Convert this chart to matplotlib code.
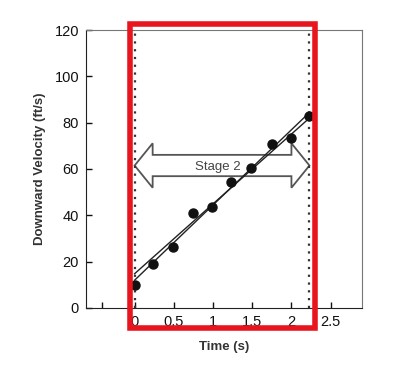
import numpy as np
import matplotlib
matplotlib.use('Agg')
import matplotlib.pyplot as plt
from matplotlib.patches import Polygon, Rectangle

plt.rcParams['font.family'] = ['Liberation Sans', 'DejaVu Sans']

# measured velocities during stage 2
time_s = [0, 0.24, 0.49, 0.75, 0.99, 1.23, 1.49, 1.75, 1.99, 2.22]
velocity = [10, 19, 26.3, 41, 43.6, 54.4, 60.4, 70.8, 73.4, 82.9]

# two fitted lines (end points)
fit_x = [0, 2.23]
fit_a = [12, 84.4]
fit_b = [14.8, 82]

stage_start, stage_end = 0, 2.23
stage_label = 'Stage 2'

xticks = [-0.42, 0, 0.5, 1, 1.5, 2, 2.5]
xticklabels = ['', '0', '0.5', '1', '1.5', '2', '2.5']
yticks = [0, 20, 40, 60, 80, 100, 120]

fig = plt.figure(figsize=(4, 3.75), dpi=100)
ax = fig.add_axes([0.215, 0.1787, 0.69, 0.7413])

# hollow double arrow marking the stage (drawn under the data)
y_mid, body, head, head_len = 61.5, 4.6, 9.6, 0.23
x0, x1 = stage_start, stage_end
verts = [(x0, y_mid), (x0 + head_len, y_mid + head), (x0 + head_len, y_mid + body),
         (x1 - head_len, y_mid + body), (x1 - head_len, y_mid + head), (x1, y_mid),
         (x1 - head_len, y_mid - head), (x1 - head_len, y_mid - body),
         (x0 + head_len, y_mid - body), (x0 + head_len, y_mid - head)]
ax.add_patch(Polygon(verts, closed=True, facecolor='white', edgecolor='#555555',
                     lw=1.3, zorder=1))
ax.text(1.06, y_mid - 0.5, stage_label, ha='center', va='center',
        fontsize=9.5, color='#444444', zorder=1.5)

ax.plot(fit_x, fit_a, color='#222222', lw=1.0, zorder=3)
ax.plot(fit_x, fit_b, color='#222222', lw=1.0, zorder=3)
ax.plot(time_s, velocity, 'o', color='#111111', ms=6.5, zorder=4)

for xv in (stage_start, stage_end):
    ax.axvline(xv, color='#333333', ls=(0, (1, 2.5)), lw=1.6, zorder=2)

ax.set_xlim(-0.62, 2.9)
ax.set_ylim(0, 120)
ax.set_xticks(xticks)
ax.set_xticklabels(xticklabels)
ax.set_yticks(yticks)
ax.tick_params(direction='in', length=4, width=1, labelsize=10.5,
               colors='#111111', pad=5)
for side in ('left', 'bottom'):
    ax.spines[side].set_color('#222222')
for side in ('top', 'right'):
    ax.spines[side].set_color('#777777')

ax.set_xlabel('Time (s)', fontsize=9.5, fontweight='bold', color='#333333', labelpad=9)
ax.set_ylabel('Downward Velocity (ft/s)', fontsize=9.5, fontweight='bold',
              color='#333333', labelpad=6)

# red highlight frame
fig.patches.append(Rectangle((130 / 400, 1 - 327.5 / 375), 185 / 400, 304 / 375,
                             transform=fig.transFigure, fill=False,
                             edgecolor='#e8141e', lw=4, zorder=10))

fig.savefig('out.png', dpi=100)
